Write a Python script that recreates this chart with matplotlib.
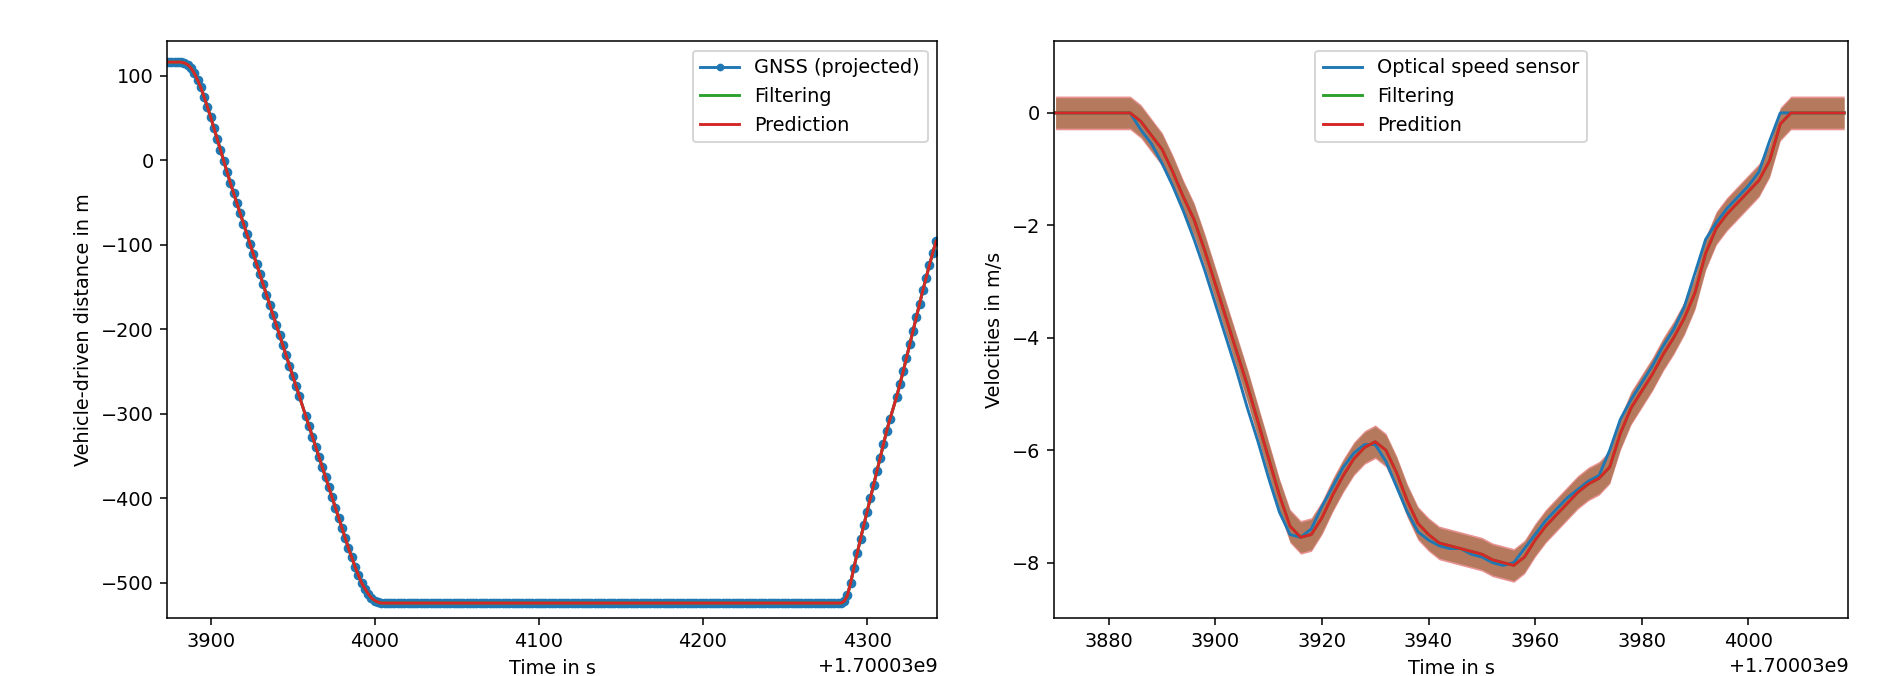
import numpy as np
import matplotlib
matplotlib.use("Agg")
import matplotlib.pyplot as plt

# 时间基准（Unix 时间戳）
t_base = 1.70003e9

# GNSS 投影距离（每 2 s 一个采样点，中间有缺失）
gnss_t_fall = np.arange(3874, 3955, 2)
gnss_d_fall = [116, 116, 116, 116, 116, 115, 113, 109, 103, 95,
               86, 75, 63, 51, 38, 25, 12, -1, -14, -27,
               -39, -51, -63, -75, -87, -99, -111, -123, -135, -147,
               -159, -171, -183, -195, -207, -219, -231, -243, -255, -267,
               -279]
gnss_t_fall2 = np.arange(3958, 4005, 2)
gnss_d_fall2 = [-303, -315, -327, -339, -351, -363, -375, -387, -399, -411,
                -423, -435, -447, -459, -470, -481, -491, -500, -507, -513,
                -518, -521, -523, -524]
gnss_t_flat = np.arange(4006, 4285, 2)
gnss_d_flat = [-524.0] * len(gnss_t_flat)
gnss_t_rise = np.arange(4286, 4315, 2)
gnss_d_rise = [-522, -515, -500, -482, -465, -448, -432, -416, -400, -384,
               -368, -352, -336, -320, -306]
gnss_t_rise2 = np.arange(4318, 4343, 2)
gnss_d_rise2 = [-280, -265, -250, -234, -218, -202, -186, -170, -154, -139,
                -124, -110, -96]

gnss_t = np.concatenate([gnss_t_fall, gnss_t_fall2, gnss_t_flat, gnss_t_rise, gnss_t_rise2]) + t_base
gnss_d = np.concatenate([gnss_d_fall, gnss_d_fall2, gnss_d_flat, gnss_d_rise, gnss_d_rise2])

# 光学速度传感器与滤波结果（每 2 s）
vel_t = np.arange(3870, 4019, 2) + t_base
vel_meas = [0, 0, 0, 0, 0, 0, 0, 0,
            -0.3, -0.55, -0.9, -1.3, -1.75, -2.25, -2.8, -3.4, -4.0, -4.6,
            -5.25, -5.85, -6.5, -7.1, -7.5, -7.55, -7.4, -7.0, -6.65, -6.3,
            -6.05, -5.9, -5.9, -6.2, -6.65, -7.1, -7.45, -7.6, -7.7, -7.75,
            -7.75, -7.85, -7.9, -8.0, -8.05, -8.0, -7.75, -7.5, -7.25, -7.05,
            -6.85, -6.7, -6.55, -6.45, -6.0, -5.45, -5.1, -4.8, -4.5, -4.15,
            -3.85, -3.45, -2.85, -2.25, -1.95, -1.7, -1.5, -1.3, -1.05, -0.5,
            0.0, 0, 0, 0, 0, 0, 0]
vel_filt = [0, 0, 0, 0, 0, 0, 0, 0,
            -0.15, -0.4, -0.65, -1.05, -1.5, -1.9, -2.45, -3.05, -3.65, -4.25,
            -4.85, -5.5, -6.15, -6.8, -7.35, -7.55, -7.5, -7.2, -6.8, -6.45,
            -6.15, -5.95, -5.85, -6.0, -6.4, -6.9, -7.3, -7.5, -7.65, -7.7,
            -7.75, -7.8, -7.85, -7.95, -8.0, -8.05, -7.9, -7.6, -7.35, -7.15,
            -6.95, -6.75, -6.6, -6.5, -6.3, -5.7, -5.25, -4.95, -4.65, -4.3,
            -4.0, -3.65, -3.2, -2.5, -2.05, -1.8, -1.6, -1.4, -1.2, -0.85,
            -0.2, 0, 0, 0, 0, 0, 0]
sigma_filt = 0.27
sigma_pred = 0.30

dpi = 139
fig = plt.figure(figsize=(1897 / dpi, 676 / dpi), dpi=dpi)

# 左图：行驶距离
ax1 = fig.add_axes([0.0882, 0.0854, 0.4059, 0.854])
ax1.plot(gnss_t, gnss_d, marker='.', markersize=8, color='tab:blue', label='GNSS (projected)')
ax1.plot(gnss_t, gnss_d, color='tab:green', label='Filtering')
ax1.plot(gnss_t, gnss_d, color='tab:red', label='Prediction')
ax1.set_xlim(t_base + 3873.6, t_base + 4342.8)
ax1.set_ylim(-542, 141)
ax1.set_xlabel('Time in s')
ax1.set_ylabel('Vehicle-driven distance in m')
leg1 = ax1.legend(loc='upper right')
leg1.legend_handles[0].set_markersize(6)

# 右图：速度
vf = np.array(vel_filt)
ax2 = fig.add_axes([0.5556, 0.0854, 0.4188, 0.854])
ax2.fill_between(vel_t, vf - sigma_filt, vf + sigma_filt, color='tab:green', alpha=0.5, lw=0)
ax2.fill_between(vel_t, vf - sigma_pred, vf + sigma_pred, color='tab:red', alpha=0.5, lw=0)
ax2.plot(vel_t, vel_meas, color='tab:blue', label='Optical speed sensor')
ax2.plot(vel_t, vel_filt, color='tab:green', label='Filtering')
ax2.plot(vel_t, vel_filt, color='tab:red', label='Predition')
ax2.set_xlim(t_base + 3869.7, t_base + 4018.8)
ax2.set_ylim(-8.99, 1.28)
ax2.set_xlabel('Time in s')
ax2.set_ylabel('Velocities in m/s')
ax2.legend(loc='upper center')

fig.savefig('out.png', dpi=dpi)
